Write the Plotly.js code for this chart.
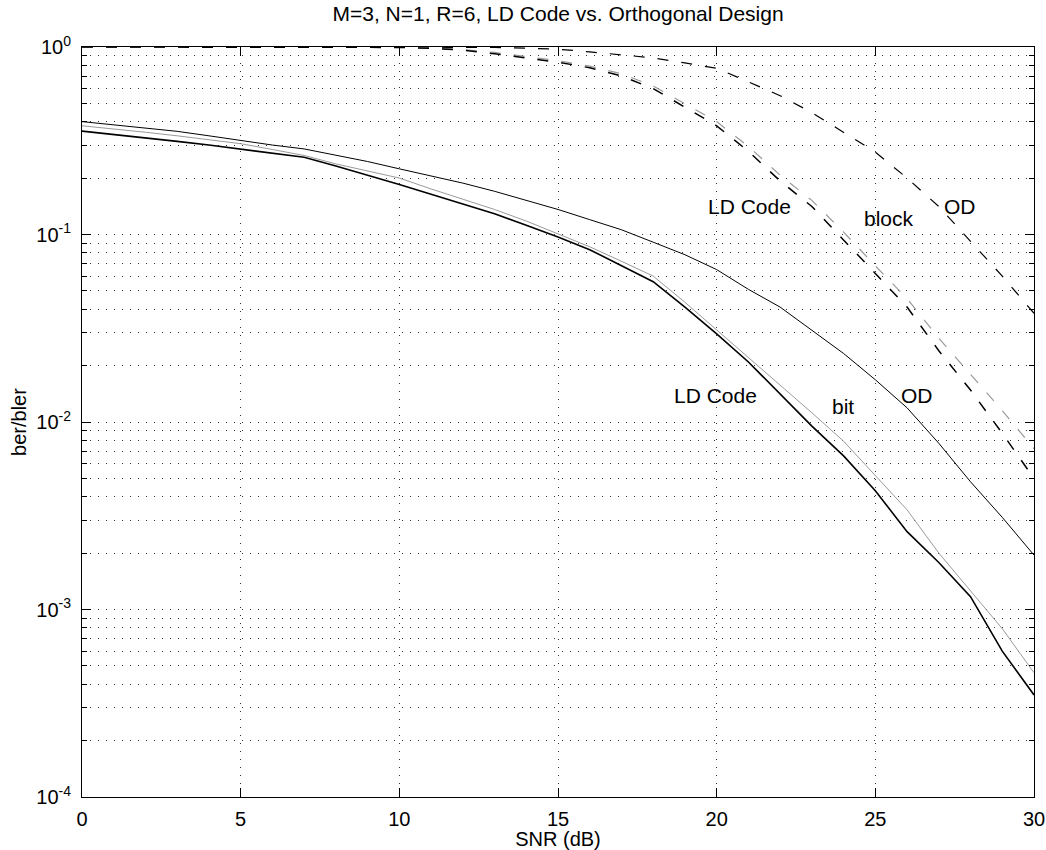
<!DOCTYPE html>
<html>
<head>
<meta charset="utf-8">
<script src="https://cdn.plot.ly/plotly-3.0.1.min.js"></script>
<style>html,body{margin:0;padding:0;background:#fff;}#chart{width:1046px;height:850px;}</style>
</head>
<body>
<div id="chart"></div>
<script>
// SNR (dB)
const snr = [0,1,2,3,4,5,6,7,8,9,10,11,12,13,14,15,16,17,18,19,20,21,22,23,24,25,26,27,28,29,30];

// bit error rates
const odBit = [0.40,0.385,0.37,0.355,0.336,0.317,0.30,0.286,0.265,0.245,0.224,0.205,0.188,0.17,0.152,0.136,0.12,0.106,0.091,0.078,0.065,0.051,0.041,0.031,0.0232,0.0168,0.0119,0.0077,0.0048,0.0031,0.00195];
const ldBit = [0.356,0.342,0.328,0.314,0.30,0.286,0.272,0.258,0.232,0.208,0.185,0.164,0.146,0.129,0.112,0.097,0.083,0.068,0.056,0.041,0.0295,0.0209,0.0141,0.0095,0.0066,0.0043,0.0026,0.00178,0.00117,0.0006,0.00035];
const ldBit2 = [0.38,0.366,0.351,0.336,0.32,0.305,0.284,0.264,0.238,0.218,0.20,0.175,0.155,0.136,0.118,0.101,0.086,0.072,0.060,0.0435,0.031,0.022,0.0158,0.0112,0.0079,0.0052,0.0034,0.0020,0.00126,0.00079,0.00046];

// block error rates
const odBlock = [1,1,1,1,1,1,1,1,1,1,1,1,0.998,0.994,0.985,0.973,0.942,0.912,0.875,0.822,0.77,0.652,0.55,0.447,0.351,0.275,0.2,0.141,0.092,0.060,0.038];
const ldBlock = [1,1,1,1,1,1,1,1,1,1,0.995,0.985,0.962,0.92,0.875,0.83,0.775,0.70,0.60,0.48,0.38,0.278,0.193,0.141,0.094,0.062,0.041,0.024,0.0148,0.0087,0.005];
const ldBlock2 = [1,1,1,1,1,1,1,1,1,1,0.998,0.99,0.97,0.935,0.89,0.845,0.79,0.72,0.62,0.50,0.40,0.295,0.207,0.152,0.103,0.068,0.0455,0.028,0.018,0.0115,0.0072];

// axis ticks
const xTicks = [0,5,10,15,20,25,30];
const yTickVals = [1e-4,1e-3,1e-2,1e-1,1];
const yTickText = ['10<sup>-4</sup>','10<sup>-3</sup>','10<sup>-2</sup>','10<sup>-1</sup>','10<sup>0</sup>'];

// text labels
const labelText = ['LD Code','block','OD','LD Code','bit','OD'];
const labelX = [21.05,25.43,27.67,19.95,23.98,26.32];
const labelY = [-0.853,-0.917,-0.853,-1.856,-1.915,-1.856];

const minorVals = [];
for (let e = -4; e < 0; e++) for (let m = 2; m <= 9; m++) minorVals.push(m * Math.pow(10, e));

const FONT = 'Liberation Sans, Arial, Helvetica, sans-serif';
const DASH = '11px,13px';

const traces = [
  {x: snr, y: odBit, mode: 'lines', line: {color: '#000', width: 1}},
  {x: snr, y: ldBit2, mode: 'lines', line: {color: '#9a9a9a', width: 1}},
  {x: snr, y: ldBit, mode: 'lines', line: {color: '#000', width: 1.6}},
  {x: snr, y: odBlock, mode: 'lines', line: {color: '#000', width: 1.2, dash: DASH}},
  {x: snr, y: ldBlock2, mode: 'lines', line: {color: '#9a9a9a', width: 1.2, dash: DASH}},
  {x: snr, y: ldBlock, mode: 'lines', line: {color: '#000', width: 1.5, dash: DASH}}
].map(t => Object.assign(t, {type: 'scatter', showlegend: false, hoverinfo: 'skip'}));

const annotations = labelText.map((t, i) => ({
  text: t, x: labelX[i], y: labelY[i], xref: 'x', yref: 'y',
  showarrow: false, xanchor: 'center', yanchor: 'middle',
  font: {family: FONT, size: 21, color: '#000'}
}));

const layout = {
  width: 1046, height: 850,
  margin: {l: 82, r: 12, t: 47, b: 53, pad: 0},
  paper_bgcolor: '#fff', plot_bgcolor: '#fff',
  font: {family: FONT, size: 20, color: '#000'},
  title: {text: 'M=3, N=1, R=6, LD Code vs. Orthogonal Design', x: 0.5335, xanchor: 'center', xref: 'container',
          y: 1 - 14/850, yanchor: 'middle', yref: 'container', font: {family: FONT, size: 21, color: '#000'}},
  xaxis: {
    range: [0, 30], tickmode: 'array', tickvals: xTicks, ticktext: xTicks.map(String),
    showline: true, linecolor: '#000', linewidth: 1, mirror: 'allticks',
    ticks: 'inside', ticklen: 9, tickwidth: 1, tickcolor: '#000',
    showgrid: true, gridcolor: '#333', gridwidth: 1, griddash: '1px,7px',
    zeroline: false, ticklabelstandoff: 4,
    title: {text: 'SNR (dB)', font: {family: FONT, size: 20}, standoff: 2},
    automargin: false
  },
  yaxis: {
    type: 'log', range: [-4, 0], tickmode: 'array', tickvals: yTickVals, ticktext: yTickText,
    showline: true, linecolor: '#000', linewidth: 1, mirror: 'allticks',
    ticks: 'inside', ticklen: 9, tickwidth: 1, tickcolor: '#000',
    showgrid: true, gridcolor: '#333', gridwidth: 1, griddash: '1px,7px',
    minor: {tickmode: 'array', tickvals: minorVals, ticks: 'inside', ticklen: 5, tickwidth: 1, tickcolor: '#000',
            showgrid: true, gridcolor: '#333', gridwidth: 1, griddash: '1px,7px'},
    zeroline: false, ticklabelstandoff: 6,
    title: {text: 'ber/bler', font: {family: FONT, size: 20}, standoff: 4},
    automargin: false
  },
  annotations: annotations
};

Plotly.newPlot('chart', traces, layout, {staticPlot: true, displayModeBar: false});
</script>
</body>
</html>
